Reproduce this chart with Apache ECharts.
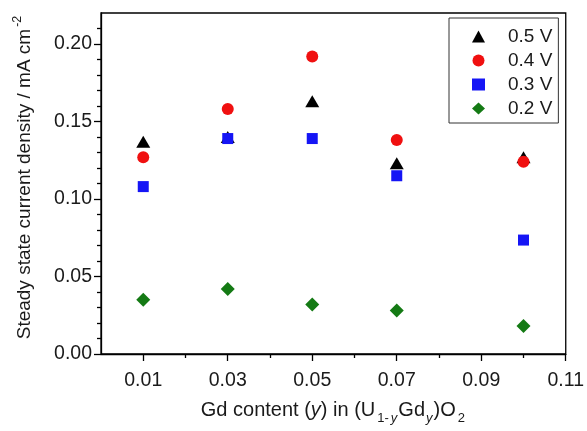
<!DOCTYPE html>
<html>
<head>
<meta charset="utf-8">
<script src="https://cdn.jsdelivr.net/npm/echarts@6/dist/echarts.min.js"></script>
<style>
  html, body { margin: 0; padding: 0; background: #fff; }
  #chart { width: 587px; height: 431px; }
</style>
</head>
<body>
<div id="chart"></div>
<script>
// Gd content y in (U1-yGdy)O2
const gdContent = [0.01, 0.03, 0.05, 0.07, 0.10]
// steady state current density, mA cm-2
const v05 = [0.137, 0.140, 0.163, 0.123, 0.127]
const v04 = [0.127, 0.158, 0.192, 0.138, 0.124]
const v03 = [0.108, 0.139, 0.139, 0.115, 0.0735]
const v02 = [0.035, 0.042, 0.032, 0.028, 0.018]

const seriesNames = ['0.5 V', '0.4 V', '0.3 V', '0.2 V']

const xMajorTicks = [0.01, 0.03, 0.05, 0.07, 0.09, 0.11]
const xMinorTicks = [0.02, 0.04, 0.06, 0.08, 0.10]
const yMajorTicks = [0, 0.05, 0.10, 0.15, 0.20]
const yMinorTicks = [0.01, 0.02, 0.03, 0.04, 0.06, 0.07, 0.08, 0.09,
  0.11, 0.12, 0.13, 0.14, 0.16, 0.17, 0.18, 0.19, 0.21]

const font = '"Liberation Sans", Arial, sans-serif'
const ink = '#1a1a1a'

function pairs(ys) {
  return gdContent.map((x, i) => [x, ys[i]])
}

const chart = echarts.init(document.getElementById('chart'))

const axisLineStyle = { color: '#000', width: 1.3 }

chart.setOption({
  animation: false,
  backgroundColor: '#fff',
  textStyle: { fontFamily: font },
  grid: {
    left: 101, right: 19, top: 13, bottom: 77,
    show: true, borderColor: '#000', borderWidth: 1.3
  },
  legend: {
    orient: 'vertical',
    left: 449, top: 18,
    padding: [9, 6, 5, 23],
    itemWidth: 13, itemHeight: 12, itemGap: 5,
    borderColor: '#333', borderWidth: 1,
    textStyle: { fontFamily: font, fontSize: 19, color: ink, padding: [0, 0, 0, 18] },
    data: seriesNames
  },
  xAxis: [{
    type: 'value', min: 0, max: 0.11,
    name: '{n|Gd content (}{i|y}{n|) in (U}{s|1-}{si|y}{n|Gd}{si|y}{n|)O}{s|2}',
    nameLocation: 'middle', nameGap: 42,
    nameTextStyle: {
      rich: {
        n: { fontFamily: font, fontSize: 20, color: ink, lineHeight: 24 },
        i: { fontFamily: font, fontSize: 20, color: ink, fontStyle: 'italic', lineHeight: 24 },
        s: { fontFamily: font, fontSize: 13, color: ink, lineHeight: 24, padding: [16, 1, 0, 2] },
        si: { fontFamily: font, fontSize: 13, color: ink, fontStyle: 'italic', lineHeight: 24, padding: [16, 1, 0, 1] }
      }
    },
    axisLine: { onZero: false, lineStyle: axisLineStyle },
    axisTick: { customValues: xMajorTicks, inside: false, length: 7, lineStyle: axisLineStyle },
    axisLabel: {
      customValues: xMajorTicks, margin: 17,
      fontFamily: font, fontSize: 19.5, color: ink,
      formatter: v => v.toFixed(2)
    },
    splitLine: { show: false }
  }, {
    type: 'value', min: 0, max: 0.11, position: 'bottom',
    axisLine: { show: false },
    axisTick: { customValues: xMinorTicks, length: 4, lineStyle: axisLineStyle },
    axisLabel: { show: false },
    splitLine: { show: false }
  }],
  yAxis: [{
    type: 'value', min: 0, max: 0.22,
    name: '{n|Steady state current density / mA cm}{p|-2}',
    nameLocation: 'middle', nameGap: 64,
    nameTextStyle: {
      padding: [0, 0, 0, 12],
      rich: {
        n: { fontFamily: font, fontSize: 19, color: ink, lineHeight: 24 },
        p: { fontFamily: font, fontSize: 12.5, color: ink, lineHeight: 24, padding: [0, 0, 14, 2] }
      }
    },
    axisLine: { show: true, onZero: false, lineStyle: axisLineStyle },
    axisTick: { show: true, customValues: yMajorTicks, length: 7, lineStyle: axisLineStyle },
    axisLabel: {
      customValues: yMajorTicks, margin: 9,
      fontFamily: font, fontSize: 19.5, color: ink,
      formatter: v => v.toFixed(2)
    },
    splitLine: { show: false }
  }, {
    type: 'value', min: 0, max: 0.22, position: 'left',
    axisLine: { show: false },
    axisTick: { show: true, customValues: yMinorTicks, length: 4, lineStyle: axisLineStyle },
    axisLabel: { show: false },
    splitLine: { show: false }
  }],
  series: [
    {
      name: seriesNames[0], type: 'scatter', data: pairs(v05),
      symbol: 'triangle', symbolSize: [14, 12],
      itemStyle: { color: '#000', opacity: 1 }
    },
    {
      name: seriesNames[1], type: 'scatter', data: pairs(v04),
      symbol: 'circle', symbolSize: 12,
      itemStyle: { color: '#f01010', opacity: 1 }
    },
    {
      name: seriesNames[2], type: 'scatter', data: pairs(v03),
      symbol: 'rect', symbolSize: 11,
      itemStyle: { color: '#1515f5', opacity: 1 }
    },
    {
      name: seriesNames[3], type: 'scatter', data: pairs(v02),
      symbol: 'diamond', symbolSize: 14,
      itemStyle: { color: '#147a14', opacity: 1 }
    }
  ]
})
</script>
</body>
</html>
